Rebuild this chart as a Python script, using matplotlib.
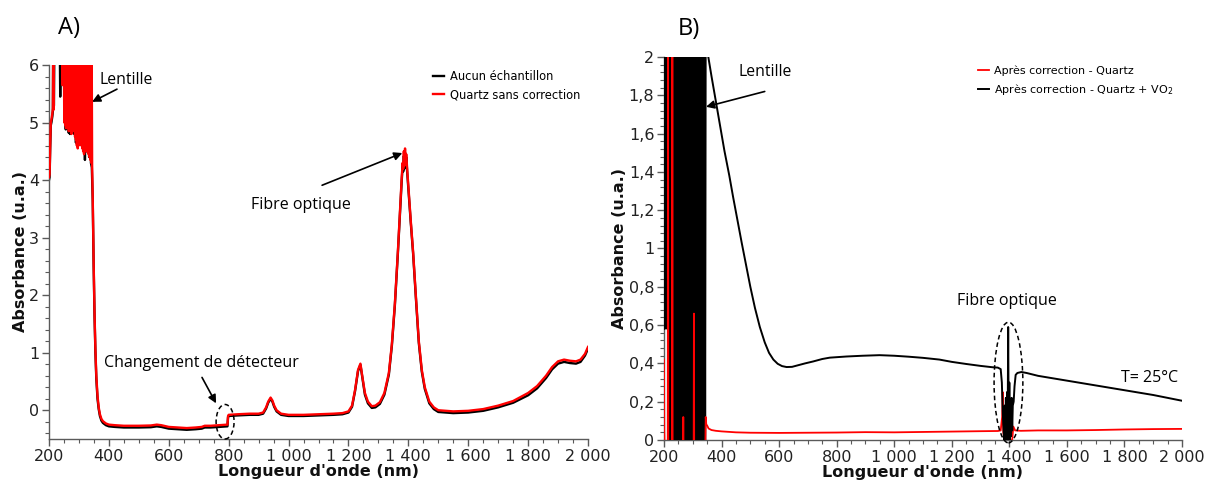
import matplotlib
matplotlib.use("Agg")
import matplotlib.pyplot as plt
from matplotlib.ticker import MultipleLocator, AutoMinorLocator, FuncFormatter
from matplotlib.patches import Ellipse

# ---------------- Panel A : raw spectra ----------------
# UV region (saturated, noisy) - red trace
a_uv_nm_red = [200, 202, 204, 206, 208, 211, 213, 214, 215, 216, 230, 244,
               245, 246.5, 248, 249.5, 251, 252.5, 254, 255.5, 257, 258.5, 260, 261.5, 263,
               264.5, 266, 267.5, 269, 270.5, 272, 273.5, 275, 276.5, 278, 279.5, 281, 282.5,
               284, 285.5, 287, 288.5, 290, 291.5, 293, 294.5, 296, 297.5, 299, 300.5, 302,
               303.5, 305, 306.5, 308, 309.5, 311, 312.5, 314, 315.5, 317, 318.5, 320, 321.5,
               323, 324.5, 326, 327.5, 329, 330.5, 332, 333.5, 335, 336.5, 338, 339.5, 341,
               342.5, 344]
a_uv_red = [4.05, 4.1, 4.6, 5.0, 5.05, 5.15, 5.25, 6.4, 5.22, 6.4, 6.4, 6.4,
            5.65, 6.4, 5.9, 6.4, 5.0, 6.4, 4.95, 6.4, 4.9, 6.4, 5.1, 6.4, 5.0,
            6.4, 4.85, 6.4, 4.9, 6.4, 4.85, 6.4, 4.8, 6.4, 5.0, 6.4, 4.9, 6.4,
            4.85, 6.4, 4.75, 6.4, 4.7, 6.4, 4.6, 6.4, 4.55, 6.4, 4.6, 6.4, 4.7,
            6.4, 4.65, 6.4, 4.6, 6.4, 4.55, 6.4, 4.5, 6.4, 4.45, 6.4, 4.5, 6.4,
            4.55, 6.4, 4.5, 6.4, 4.55, 6.4, 4.45, 6.4, 4.4, 6.4, 4.35, 6.4, 4.3,
            6.4, 4.25]
# UV region - black trace
a_uv_nm_blk = [200, 202, 204, 206, 208, 211, 213, 214, 215.5, 216.5, 218, 236, 237.5, 239, 250,
               251.8, 253.2, 256, 258, 260, 262, 266, 268, 270, 272, 275, 278, 284, 287, 290,
               293, 300, 303, 306, 310, 314, 318, 320, 322, 326, 330, 334, 337, 340, 343]
a_uv_blk = [4.0, 4.05, 4.55, 4.95, 5.0, 5.1, 5.2, 6.4, 5.25, 5.3, 6.4, 6.4, 5.45, 6.4, 6.4,
            5.1, 6.4, 4.88, 6.4, 4.9, 6.4, 4.82, 6.4, 4.8, 6.4, 4.84, 6.4, 4.8, 6.4, 4.65,
            6.4, 4.75, 6.4, 4.7, 6.4, 4.6, 6.4, 4.35, 6.4, 4.5, 6.4, 4.4, 6.4, 4.3, 4.22]

# Visible / NIR region, shared wavelengths
a_nm = [346, 349, 352, 355, 358, 362, 366, 370, 375, 380, 390, 400, 420, 450, 500, 540, 560,
        575, 600, 630, 660, 690, 710, 720, 740, 770, 796, 798, 800, 830, 870, 900, 915, 925,
        932, 940, 946, 952, 960, 975, 1000, 1050, 1100, 1150, 1180, 1200, 1212, 1222, 1232,
        1240, 1246, 1255, 1265, 1278, 1290, 1305, 1320, 1335, 1345, 1355, 1365, 1372, 1378,
        1381, 1383, 1385, 1387, 1389, 1391, 1393, 1396, 1400, 1408, 1416, 1425, 1435, 1445,
        1455, 1470, 1485, 1500, 1550, 1600, 1650, 1700, 1750, 1800, 1830, 1860, 1880, 1900,
        1920, 1940, 1960, 1975, 1990, 2000]
a_red = [3.7, 2.6, 1.7, 1.05, 0.6, 0.25, 0.05, -0.07, -0.15, -0.19, -0.23, -0.25, -0.26, -0.27,
         -0.27, -0.265, -0.25, -0.26, -0.29, -0.30, -0.31, -0.30, -0.29, -0.27, -0.27, -0.26,
         -0.25, -0.10, -0.08, -0.07, -0.06, -0.06, -0.04, 0.05, 0.15, 0.22, 0.17, 0.08, 0.0,
         -0.06, -0.08, -0.08, -0.07, -0.06, -0.05, -0.02, 0.08, 0.35, 0.7, 0.81, 0.6, 0.3,
         0.15, 0.07, 0.08, 0.14, 0.3, 0.65, 1.15, 1.85, 2.75, 3.45, 4.05, 4.3, 4.2, 4.5,
         4.25, 4.55, 4.3, 4.45, 4.2, 3.9, 3.3, 2.75, 2.0, 1.2, 0.7, 0.4, 0.15, 0.05, 0.0,
         -0.02, -0.01, 0.02, 0.08, 0.16, 0.3, 0.42, 0.6, 0.75, 0.85, 0.88, 0.86, 0.85, 0.88,
         0.98, 1.1]
a_blk = [3.65, 2.55, 1.65, 1.0, 0.55, 0.2, 0.02, -0.1, -0.18, -0.22, -0.26, -0.28, -0.29, -0.30,
         -0.30, -0.295, -0.28, -0.29, -0.32, -0.33, -0.34, -0.33, -0.32, -0.30, -0.30, -0.29,
         -0.28, -0.12, -0.10, -0.09, -0.08, -0.08, -0.06, 0.03, 0.13, 0.2, 0.15, 0.06, -0.02,
         -0.08, -0.10, -0.10, -0.09, -0.08, -0.07, -0.04, 0.06, 0.33, 0.68, 0.79, 0.58, 0.27,
         0.12, 0.04, 0.05, 0.11, 0.27, 0.62, 1.12, 1.82, 2.72, 3.42, 4.0, 4.25, 4.15, 4.42,
         4.2, 4.48, 4.25, 4.4, 4.15, 3.85, 3.27, 2.72, 1.97, 1.17, 0.67, 0.37, 0.12, 0.02,
         -0.03, -0.05, -0.04, -0.01, 0.05, 0.13, 0.26, 0.38, 0.56, 0.71, 0.81, 0.84, 0.82,
         0.81, 0.84, 0.95, 1.07]

# ---------------- Panel B : corrected spectra ----------------
# Quartz + VO2 (black) - saturated UV block
b_uv_nm_blk = [200, 201, 202.5, 204, 205.5, 207, 208.5, 210, 211.5, 213, 215, 217, 219, 221,
               223, 225, 227, 229, 231, 233, 235, 237, 239, 241, 243, 245, 247, 249, 251, 253,
               255, 257, 259, 261, 263, 265, 267, 269, 271, 273, 275, 277, 279, 281, 283, 285,
               287, 289, 291, 293, 295, 297, 299, 301, 303, 305, 307, 309, 311, 313, 315, 317,
               319, 321, 323, 325, 327, 329, 331, 333, 335, 337, 339, 341, 343, 345]
b_uv_blk = [0.6, 2.3, 0.58, 2.3, 0.6, 2.3, 0.62, 2.3, 0.58, 2.3, -0.1, 2.3, -0.1, 2.3,
            -0.1, 2.3, -0.1, 2.3, -0.1, 2.3, -0.1, 2.3, -0.1, 2.3, -0.1, 2.3, -0.1, 2.3,
            -0.1, 2.3, -0.1, 2.3, -0.1, 2.3, -0.1, 2.3, -0.1, 2.3, -0.1, 2.3, -0.1, 2.3,
            -0.1, 2.3, -0.1, 2.3, -0.1, 2.3, -0.1, 2.3, -0.1, 2.3, -0.1, 2.3, -0.1, 2.3,
            -0.1, 2.3, -0.1, 2.3, -0.1, 2.3, -0.1, 2.3, -0.1, 2.3, -0.1, 2.3, -0.1, 2.3,
            -0.1, 2.3, -0.1, 2.3, -0.1, 2.3]
b_nm_blk = [348, 354, 365, 380, 395, 410, 427, 440, 455, 470, 487, 500, 516, 533, 550, 565,
            580, 595, 610, 626, 645, 660, 690, 718, 750, 776, 834, 890, 949, 1000, 1050,
            1100, 1157, 1200, 1250, 1300, 1341, 1360, 1370, 1374, 1377, 1380, 1382, 1384,
            1386, 1388, 1390, 1392, 1394, 1396, 1398, 1400, 1402, 1404, 1406, 1408, 1410,
            1412, 1415, 1418, 1422, 1428, 1442, 1460, 1500, 1600, 1700, 1800, 1900, 2000]
b_blk = [2.05, 2.0, 1.9, 1.77, 1.64, 1.51, 1.38, 1.27, 1.15, 1.03, 0.90, 0.80, 0.69, 0.59,
         0.51, 0.455, 0.42, 0.398, 0.386, 0.381, 0.382, 0.388, 0.40, 0.41, 0.423, 0.43, 0.436,
         0.44, 0.443, 0.44, 0.435, 0.429, 0.42, 0.408, 0.397, 0.387, 0.38, 0.378, 0.37,
         0.3, 0.15, 0.05, 0.0, 0.18, 0.0, 0.22, 0.0, 0.25, 0.02, 0.59, 0.0, 0.3, 0.0, 0.2,
         0.02, 0.22, 0.05, 0.18, 0.2, 0.28, 0.34, 0.35, 0.355, 0.35, 0.335, 0.31, 0.285,
         0.26, 0.235, 0.205]
# Quartz alone (red)
b_uv_nm_red = [200, 201, 203, 213, 214, 215, 228, 229, 230, 266, 267, 268, 303, 304, 305,
               343, 345, 347]
b_uv_red = [0.42, 0.05, -0.1, -0.1, 2.3, -0.1, -0.1, 2.3, -0.1, -0.1, 0.12, -0.1, -0.1, 0.66,
            -0.1, -0.1, 0.12, 0.08]
b_nm_red = [347, 350, 355, 365, 380, 400, 450, 500, 600, 700, 800, 900, 1000, 1100, 1200,
            1300, 1360, 1370, 1375, 1377, 1379, 1383, 1410, 1414, 1420, 1440, 1500, 1600,
            1700, 1800, 1900, 2000]
b_red = [0.08, 0.075, 0.06, 0.052, 0.048, 0.045, 0.04, 0.038, 0.037, 0.038, 0.039, 0.041,
         0.04, 0.042, 0.044, 0.046, 0.047, 0.05, 0.12, 0.25, 0.04, 0.0, 0.0, 0.07, 0.05,
         0.048, 0.05, 0.05, 0.052, 0.055, 0.057, 0.058]


def fr_format(v, pos):
    """French-style numbers: space as thousands separator, comma as decimal mark."""
    if abs(v - round(v)) < 1e-9:
        return f"{int(round(v)):,}".replace(",", " ")
    return f"{v:.1f}".replace(".", ",")


TICK_FONT = "DejaVu Sans"
NOTE_FONT = "Open Sans"
SPINE = "#5a5a5a"

fig = plt.figure(figsize=(12.15, 4.84), dpi=100)
axA = fig.add_axes([49 / 1215, 1 - 439 / 484, (588 - 49) / 1215, (439 - 65) / 484])
axB = fig.add_axes([664 / 1215, 1 - 440 / 484, (1182 - 664) / 1215, (440 - 57) / 484])


def style_axis(ax, ymin, ymax, ymajor, yminor_n):
    ax.set_xlim(200, 2000)
    ax.set_ylim(ymin, ymax)
    ax.xaxis.set_major_locator(MultipleLocator(200))
    ax.xaxis.set_minor_locator(AutoMinorLocator(4))
    ax.yaxis.set_major_locator(MultipleLocator(ymajor))
    ax.yaxis.set_minor_locator(AutoMinorLocator(yminor_n))
    ax.xaxis.set_major_formatter(FuncFormatter(fr_format))
    ax.yaxis.set_major_formatter(FuncFormatter(fr_format))
    for s in ("top", "right"):
        ax.spines[s].set_visible(False)
    for s in ("left", "bottom"):
        ax.spines[s].set_color(SPINE)
        ax.spines[s].set_linewidth(1.0)
    ax.tick_params(which="major", direction="out", length=5, width=1.0, color=SPINE,
                   labelsize=11.5, labelcolor="#222222", pad=2)
    ax.tick_params(which="minor", direction="out", length=3, width=0.8, color=SPINE)
    for lab in ax.get_xticklabels() + ax.get_yticklabels():
        lab.set_fontfamily(TICK_FONT)
    ax.set_xlabel("Longueur d'onde (nm)", fontsize=11.5, fontweight="bold",
                  fontfamily=TICK_FONT, labelpad=0, color="#111111")
    ax.set_ylabel("Absorbance (u.a.)", fontsize=11.5, fontweight="bold",
                  fontfamily=TICK_FONT, labelpad=1, color="#111111")


# ---- Panel A ----
lineA_blk, = axA.plot(a_uv_nm_blk + a_nm, a_uv_blk + a_blk, color="black", lw=1.7,
                      label="Aucun échantillon", zorder=2)
lineA_red, = axA.plot(a_uv_nm_red + a_nm, a_uv_red + a_red, color="#ff0000", lw=1.7,
                      label="Quartz sans correction", zorder=3)
style_axis(axA, -0.5, 6, 1, 5)
axA.legend(handles=[lineA_blk, lineA_red], loc="upper left",
           bbox_to_anchor=(427 / 1215, 1 - 64 / 484), bbox_transform=fig.transFigure,
           frameon=False, fontsize=8.3, handlelength=1.0, handletextpad=0.5,
           labelspacing=0.5, borderpad=0)

arrow_kw = dict(arrowstyle="-|>", color="black", lw=1.2, mutation_scale=12,
                shrinkA=0, shrinkB=0)
axA.text(457, 5.74, "Lentille", fontsize=11.3, fontfamily=NOTE_FONT, ha="center",
         va="center")
axA.annotate("", xy=(344, 5.36), xytext=(427, 5.58), arrowprops=arrow_kw)
axA.text(1042, 3.57, "Fibre optique", fontsize=11.5, fontfamily=NOTE_FONT, ha="center",
         va="center")
axA.annotate("", xy=(1380, 4.47), xytext=(1112, 3.91), arrowprops=arrow_kw)
axA.text(708, 0.82, "Changement de détecteur", fontsize=11.5, fontfamily=NOTE_FONT,
         ha="center", va="center")
axA.annotate("", xy=(758, 0.12), xytext=(711, 0.57), arrowprops=arrow_kw)
axA.add_patch(Ellipse((788, -0.2), 60, 0.6, fill=False, ls=(0, (3, 2)), lw=1.1,
                      ec="black", clip_on=False, zorder=5))

# ---- Panel B ----
lineB_red, = axB.plot(b_nm_red, b_red, color="#ff0000", lw=1.3,
                      label="Après correction - Quartz", zorder=2)
axB.plot(b_uv_nm_red, b_uv_red, color="#ff0000", lw=1.3, zorder=4)
lineB_blk, = axB.plot(b_uv_nm_blk + b_nm_blk, b_uv_blk + b_blk, color="black", lw=1.4,
                      label="Après correction - Quartz + VO$_2$", zorder=3)
style_axis(axB, 0, 2, 0.2, 5)
axB.legend(handles=[lineB_red, lineB_blk], loc="upper left",
           bbox_to_anchor=(972 / 1215, 1 - 60 / 484), bbox_transform=fig.transFigure,
           frameon=False, fontsize=8.0, handlelength=1.0, handletextpad=0.5,
           labelspacing=0.5, borderpad=0)

axB.text(550, 1.92, "Lentille", fontsize=11.3, fontfamily=NOTE_FONT, ha="center",
         va="center")
axB.annotate("", xy=(346, 1.74), xytext=(550, 1.82), arrowprops=arrow_kw)
axB.text(1393, 0.726, "Fibre optique", fontsize=11.5, fontfamily=NOTE_FONT, ha="center",
         va="center")
axB.text(1889, 0.324, "T= 25°C", fontsize=11.5, fontfamily=NOTE_FONT, ha="center",
         va="center")
axB.add_patch(Ellipse((1397, 0.30), 100, 0.63, fill=False, ls=(0, (3, 2)), lw=1.1,
                      ec="black", clip_on=False, zorder=5))

# panel labels
fig.text(69 / 1215, 1 - 28 / 484, "A)", fontsize=17, fontfamily=NOTE_FONT, ha="center",
         va="center")
fig.text(689 / 1215, 1 - 29 / 484, "B)", fontsize=17, fontfamily=NOTE_FONT, ha="center",
         va="center")

fig.savefig("out.png", dpi=100, facecolor="white")
